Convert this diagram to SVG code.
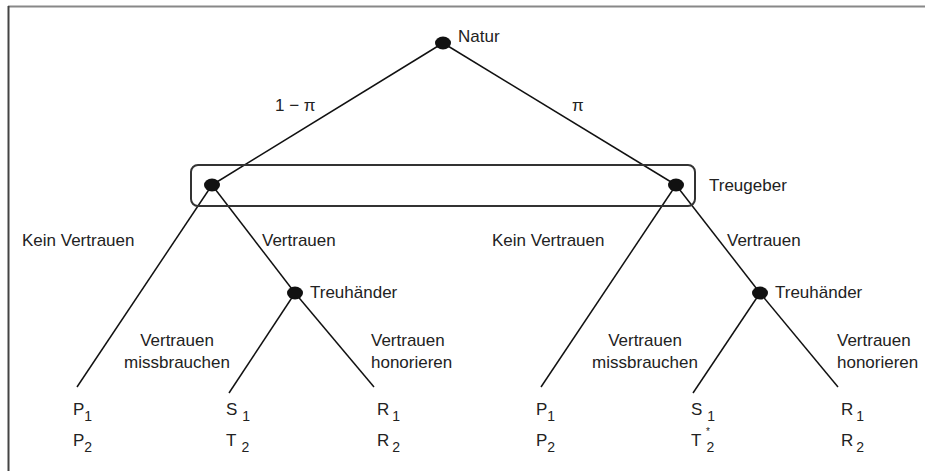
<svg xmlns="http://www.w3.org/2000/svg" width="925" height="471" viewBox="0 0 925 471">
<style>
text{font-family:"Liberation Sans",Arial,sans-serif;font-size:17px;fill:#222}
.sub{font-size:14px}
.e{stroke:#111;stroke-width:1.5;fill:none}
.n{fill:#111}
.m{text-anchor:middle}
</style>
<rect x="0" y="0" width="925" height="471" fill="#fff"/>
<line x1="8" y1="6.5" x2="925" y2="6.5" stroke="#888" stroke-width="2"/>
<line x1="8.5" y1="6" x2="8.5" y2="471" stroke="#444" stroke-width="2"/>
<g id="connectors">
<line class="e" x1="443" y1="43" x2="212" y2="185"/>
<line class="e" x1="443" y1="43" x2="676" y2="185"/>
<line class="e" x1="212" y1="185" x2="77" y2="387"/>
<line class="e" x1="212" y1="185" x2="295" y2="293"/>
<line class="e" x1="295" y1="293" x2="229" y2="393"/>
<line class="e" x1="295" y1="293" x2="374" y2="387"/>
<line class="e" x1="676" y1="185" x2="541" y2="387"/>
<line class="e" x1="676" y1="185" x2="760" y2="293"/>
<line class="e" x1="760" y1="293" x2="693" y2="393"/>
<line class="e" x1="760" y1="293" x2="838" y2="387"/>
</g>
<g id="infoset"><rect x="191" y="165" width="504" height="41" rx="7" fill="none" stroke="#333" stroke-width="2"/></g>
<g id="natur"><ellipse class="n" cx="443" cy="43" rx="8" ry="6.5"/><text x="458" y="42">Natur</text></g>
<g id="treugeber-l"><ellipse class="n" cx="212" cy="185" rx="8" ry="6.5"/></g>
<g id="treugeber-r"><ellipse class="n" cx="676" cy="185" rx="8" ry="6.5"/><text x="709" y="191">Treugeber</text></g>
<g id="treuhaender-l"><ellipse class="n" cx="295" cy="293" rx="8" ry="6.5"/><text x="310" y="298">Treuhänder</text></g>
<g id="treuhaender-r"><ellipse class="n" cx="760" cy="293" rx="8" ry="6.5"/><text x="775" y="298">Treuhänder</text></g>
<g id="labels">
<text x="275" y="111">1 − π</text>
<text x="572" y="111">π</text>
<text x="22" y="246">Kein Vertrauen</text>
<text x="262" y="246">Vertrauen</text>
<text x="492" y="246">Kein Vertrauen</text>
<text x="727" y="246">Vertrauen</text>
<text class="m" x="177" y="346">Vertrauen</text>
<text class="m" x="177" y="368">missbrauchen</text>
<text x="371" y="346">Vertrauen</text>
<text x="371" y="368">honorieren</text>
<text class="m" x="645" y="346">Vertrauen</text>
<text class="m" x="645" y="368">missbrauchen</text>
<text x="837" y="346">Vertrauen</text>
<text x="837" y="368">honorieren</text>
</g>
<g id="leaf-l1"><text x="73" y="415">P<tspan class="sub" dy="6">1</tspan></text><text x="73" y="446">P<tspan class="sub" dy="6">2</tspan></text></g>
<g id="leaf-l2"><text x="226" y="415">S<tspan class="sub" dx="5" dy="6">1</tspan></text><text x="226" y="446">T<tspan class="sub" dx="5" dy="6">2</tspan></text></g>
<g id="leaf-l3"><text x="377" y="415">R<tspan class="sub" dx="3" dy="6">1</tspan></text><text x="377" y="446">R<tspan class="sub" dx="3" dy="6">2</tspan></text></g>
<g id="leaf-r1"><text x="536" y="415">P<tspan class="sub" dy="6">1</tspan></text><text x="536" y="446">P<tspan class="sub" dy="6">2</tspan></text></g>
<g id="leaf-r2"><text x="691" y="415">S<tspan class="sub" dx="5" dy="6">1</tspan></text><text x="691" y="446">T<tspan class="sub" dx="5" dy="6">2</tspan></text><text x="706" y="435" style="font-size:10px">*</text></g>
<g id="leaf-r3"><text x="841" y="415">R<tspan class="sub" dx="3" dy="6">1</tspan></text><text x="841" y="446">R<tspan class="sub" dx="3" dy="6">2</tspan></text></g>
</svg>
